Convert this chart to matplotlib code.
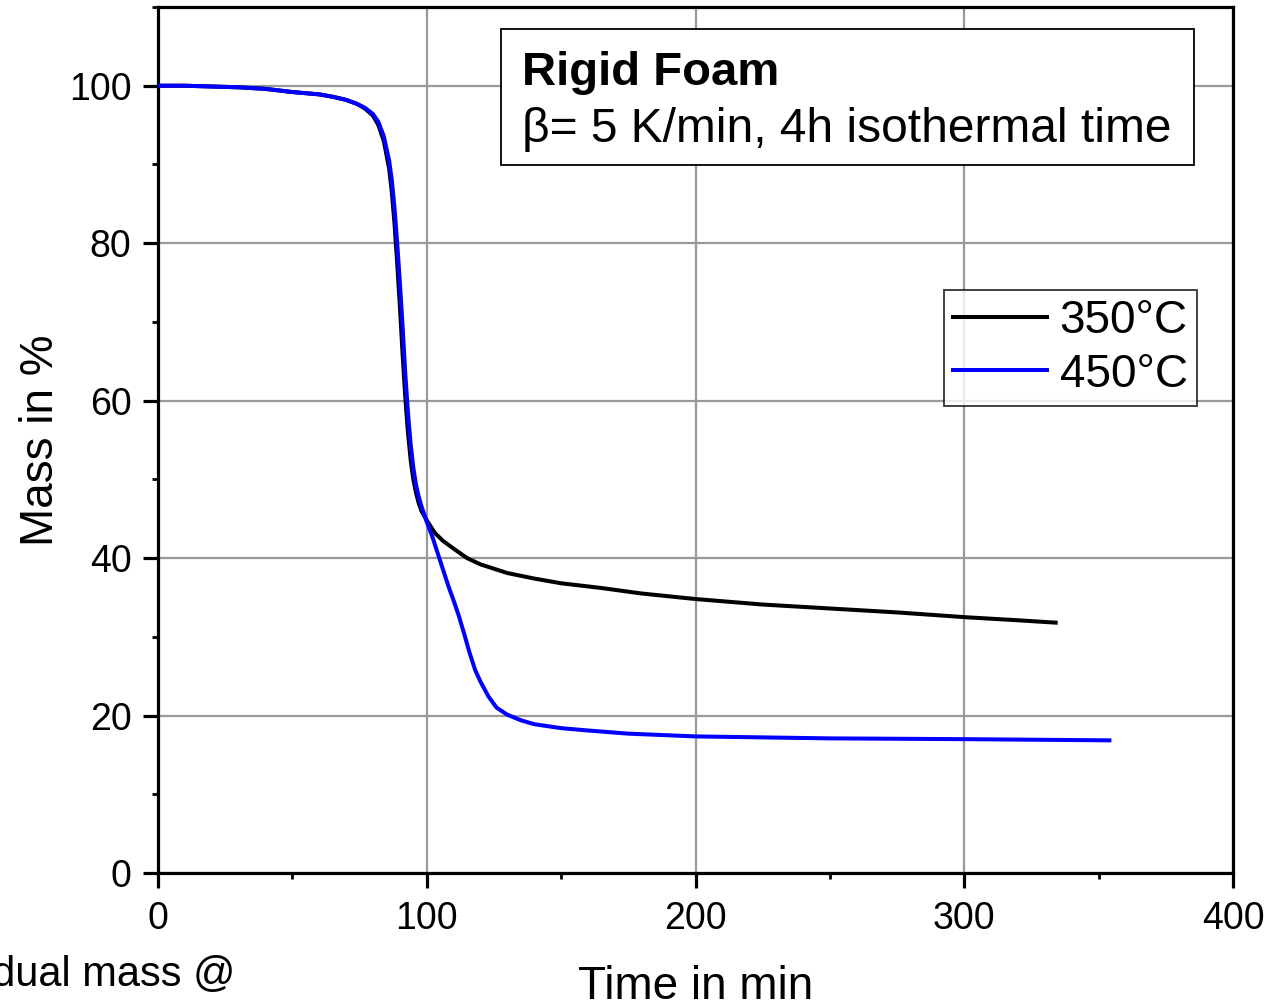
import matplotlib
matplotlib.use("Agg")
import matplotlib.pyplot as plt
from matplotlib.patches import Rectangle
from matplotlib.ticker import MultipleLocator

plt.rcParams['font.family'] = ['Liberation Sans', 'DejaVu Sans']

# 350°C curve
t_350 = [0, 10, 20, 30, 40, 50, 60, 65, 70, 74, 77, 80, 82, 84, 86, 87, 88, 89, 90, 91,
         92, 93, 94, 95, 96, 97, 98, 100, 103, 106, 110, 115, 120, 130, 140, 150, 165,
         180, 200, 225, 250, 275, 300, 320, 334]
m_350 = [100, 100, 99.9, 99.8, 99.6, 99.2, 98.9, 98.6, 98.2, 97.7, 97.1, 96.2, 95.0, 93.0,
         89.5, 86.5, 82.5, 77.5, 72.0, 66.0, 60.5, 56.0, 52.5, 50.0, 48.3, 47.0, 46.0, 44.8,
         43.2, 42.2, 41.2, 40.0, 39.2, 38.1, 37.4, 36.8, 36.2, 35.5, 34.8, 34.1, 33.6, 33.1,
         32.5, 32.1, 31.8]

# 450°C curve
t_450 = [0, 10, 20, 30, 40, 50, 60, 65, 70, 74, 77, 80, 82, 84, 86, 87, 88, 89, 90, 91,
         92, 93, 94, 95, 96, 97, 98, 100, 102, 104, 106, 108, 110, 112, 114, 116, 118, 120,
         123, 126, 130, 135, 140, 150, 160, 175, 200, 250, 300, 354]
m_450 = [100, 100, 99.9, 99.8, 99.6, 99.2, 98.9, 98.6, 98.2, 97.7, 97.2, 96.4, 95.4, 93.6,
         90.5, 88.0, 84.5, 80.0, 75.0, 69.5, 63.5, 58.5, 54.5, 51.5, 49.3, 47.8, 46.6, 44.6,
         42.8, 40.7, 38.6, 36.5, 34.6, 32.6, 30.3, 27.9, 25.8, 24.3, 22.4, 21.0, 20.1, 19.4,
         18.9, 18.4, 18.1, 17.7, 17.35, 17.1, 17.0, 16.85]

labels = ['350°C', '450°C']
colors = ['#000000', '#0000ff']

fig = plt.figure(figsize=(12.69, 10.06), dpi=100)
ax = fig.add_axes([158/1269, 133/1006, 1075/1269, 866/1006])

ax.plot(t_350, m_350, color=colors[0], lw=2.9, label=labels[0], zorder=3,
        solid_joinstyle='round')
ax.plot(t_450, m_450, color=colors[1], lw=2.9, label=labels[1], zorder=4,
        solid_joinstyle='round')

ax.set_xlim(0, 400)
ax.set_ylim(0, 110)
ax.xaxis.set_major_locator(MultipleLocator(100))
ax.xaxis.set_minor_locator(MultipleLocator(50))
ax.set_yticks([0, 20, 40, 60, 80, 100])
ax.yaxis.set_minor_locator(MultipleLocator(10))

ax.grid(True, which='major', color='#999999', lw=1.6, zorder=0)
ax.set_axisbelow(True)
for s in ax.spines.values():
    s.set_linewidth(2.3)
ax.tick_params(which='major', direction='out', length=11, width=2.3, labelsize=27)
ax.tick_params(axis='x', which='major', pad=9)
ax.tick_params(axis='y', which='major', pad=8)
ax.tick_params(which='minor', direction='out', length=4.5, width=2.0)

ax.set_xlabel('Time in min', fontsize=33, labelpad=20)
ax.set_ylabel('Mass in %', fontsize=33, labelpad=4)

# Info box
ax.add_patch(Rectangle((0.319, 0.8176), 0.6447, 0.157, transform=ax.transAxes,
                       facecolor='white', edgecolor='black', lw=1.3, zorder=5))
ax.text(0.3386, 0.924, 'Rigid Foam', transform=ax.transAxes, fontsize=34,
        fontweight='bold', va='center', ha='left', zorder=6)
ax.text(0.3386, 0.858, 'β= 5 K/min, 4h isothermal time', transform=ax.transAxes,
        fontsize=34.5, va='center', ha='left', zorder=6)

leg = ax.legend(loc='upper right', bbox_to_anchor=(0.9665, 0.673), borderaxespad=0,
                fontsize=33, frameon=True, fancybox=False, handlelength=2.05,
                handletextpad=0.28, borderpad=0.2, labelspacing=0.2)
leg.get_frame().set_edgecolor('black')
leg.get_frame().set_linewidth(1.3)
leg.set_zorder(7)

fig.text(235/1269, 1 - 975/1006, 'Residual mass @', fontsize=30, ha='right', va='center')

fig.savefig('out.png', dpi=100)
